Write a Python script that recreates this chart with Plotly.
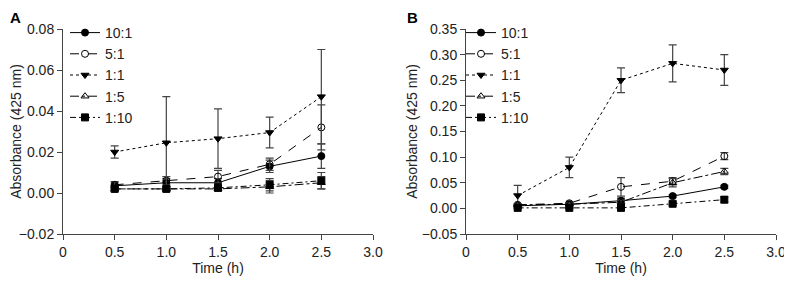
import plotly.graph_objects as go

time = [0.5, 1.0, 1.5, 2.0, 2.5]
series = ["10:1", "5:1", "1:1", "1:5", "1:10"]

# Panel A values and SD
a_vals = {
    "10:1": [0.0035, 0.005, 0.005, 0.013, 0.018],
    "5:1":  [0.004, 0.006, 0.008, 0.014, 0.032],
    "1:1":  [0.020, 0.0245, 0.0265, 0.0295, 0.047],
    "1:5":  [0.002, 0.002, 0.002, 0.003, 0.005],
    "1:10": [0.002, 0.002, 0.0025, 0.004, 0.006],
}
a_err = {
    "10:1": [0.0015, 0.002, 0.002, 0.003, 0.006],
    "5:1":  [0.0015, 0.002, 0.003, 0.003, 0.011],
    "1:1":  [0.003, 0.0225, 0.0145, 0.0075, 0.023],
    "1:5":  [0.001, 0.001, 0.001, 0.003, 0.003],
    "1:10": [0.001, 0.001, 0.001, 0.003, 0.004],
}
# Panel B values and SD
b_vals = {
    "10:1": [0.005, 0.008, 0.015, 0.024, 0.042],
    "5:1":  [0.007, 0.010, 0.042, 0.053, 0.102],
    "1:1":  [0.025, 0.080, 0.250, 0.283, 0.270],
    "1:5":  [0.007, 0.008, 0.012, 0.050, 0.072],
    "1:10": [0.001, 0.001, 0.001, 0.009, 0.017],
}
b_err = {
    "10:1": [0.002, 0.002, 0.005, 0.003, 0.003],
    "5:1":  [0.002, 0.002, 0.018, 0.007, 0.007],
    "1:1":  [0.020, 0.020, 0.024, 0.036, 0.030],
    "1:5":  [0.002, 0.002, 0.004, 0.008, 0.006],
    "1:10": [0.001, 0.001, 0.001, 0.003, 0.006],
}

x_ticks = [0, 0.5, 1, 1.5, 2, 2.5, 3]
x_ticktext = ["0", "0.5", "1.0", "1.5", "2.0", "2.5", "3.0"]
a_ticks = [-0.02, 0, 0.02, 0.04, 0.06, 0.08]
a_ticktext = ["\u22120.02", "0.00", "0.02", "0.04", "0.06", "0.08"]
b_ticks = [-0.05, 0, 0.05, 0.1, 0.15, 0.2, 0.25, 0.3, 0.35]
b_ticktext = ["\u22120.05", "0.00", "0.05", "0.10", "0.15", "0.20", "0.25", "0.30", "0.35"]

styles = {
    "10:1": dict(dash="solid", symbol="circle"),
    "5:1":  dict(dash="dash", symbol="circle-open"),
    "1:1":  dict(dash="dot", symbol="triangle-down"),
    "1:5":  dict(dash="dashdot", symbol="triangle-up-open"),
    "1:10": dict(dash="6px,3px,2px,3px", symbol="square"),
}

fig = go.Figure()
for panel, vals, errs, xa, ya, lg in [("A", a_vals, a_err, "x", "y", "legend"),
                                      ("B", b_vals, b_err, "x2", "y2", "legend2")]:
    for s in series:
        st = styles[s]
        fig.add_trace(go.Scatter(
            x=time, y=vals[s], name=s, mode="lines+markers",
            xaxis=xa, yaxis=ya, legend=lg,
            line=dict(color="black", width=1, dash=st["dash"]),
            marker=dict(symbol=st["symbol"], size=7, color="black",
                        line=dict(color="black", width=1)),
            error_y=dict(type="data", array=errs[s], visible=True,
                         color="#444444", thickness=1.2, width=4),
        ))

font = "Liberation Sans, Arial, sans-serif"
axis_common = dict(showgrid=False, zeroline=False, showline=True, linecolor="#444444",
                   linewidth=1, ticks="outside", ticklen=5, tickcolor="#444444",
                   automargin=False,
                   tickfont=dict(size=14, color="#222222", family=font))

# figure is placed inside the page's 8px body margin
W, H = 784, 275
ydom = [1 - 226/H, 1 - 21/H]
fig.update_layout(
    width=W, height=H,
    margin=dict(l=0, r=0, t=0, b=0, autoexpand=False),
    paper_bgcolor="white", plot_bgcolor="white",
    font=dict(family=font, size=14, color="#222222"),
    showlegend=True,
    xaxis=dict(domain=[55/W, 365/W], range=[0, 3.0], tickvals=x_ticks, ticktext=x_ticktext,
               title=dict(text="Time (h)", font=dict(size=14), standoff=4), anchor="y", **axis_common),
    yaxis=dict(domain=ydom, range=[-0.02, 0.08], tickvals=a_ticks, ticktext=a_ticktext,
               title=dict(text="Absorbance (425 nm)", font=dict(size=14), standoff=0), anchor="x", **axis_common),
    xaxis2=dict(domain=[458/W, 768/W], range=[0, 3.0], tickvals=x_ticks, ticktext=x_ticktext,
                title=dict(text="Time (h)", font=dict(size=14), standoff=4), anchor="y2", **axis_common),
    yaxis2=dict(domain=ydom, range=[-0.05, 0.35], tickvals=b_ticks, ticktext=b_ticktext,
                title=dict(text="Absorbance (425 nm)", font=dict(size=14), standoff=0), anchor="x2", **axis_common),
    legend=dict(x=57/W, y=1 - 9/H, xanchor="left", yanchor="top", bgcolor="rgba(0,0,0,0)",
                font=dict(size=14), tracegroupgap=0, itemwidth=30),
    legend2=dict(x=453/W, y=1 - 9/H, xanchor="left", yanchor="top", bgcolor="rgba(0,0,0,0)",
                 font=dict(size=14), tracegroupgap=0, itemwidth=30),
    annotations=[
        dict(text="<b>A</b>", x=1/W, y=1, xref="paper", yref="paper", borderpad=0,
             xanchor="left", yanchor="top", showarrow=False, font=dict(size=15, color="black")),
        dict(text="<b>B</b>", x=398/W, y=1, xref="paper", yref="paper", borderpad=0,
             xanchor="left", yanchor="top", showarrow=False, font=dict(size=15, color="black")),
    ],
)

fig.write_html("out.html")
